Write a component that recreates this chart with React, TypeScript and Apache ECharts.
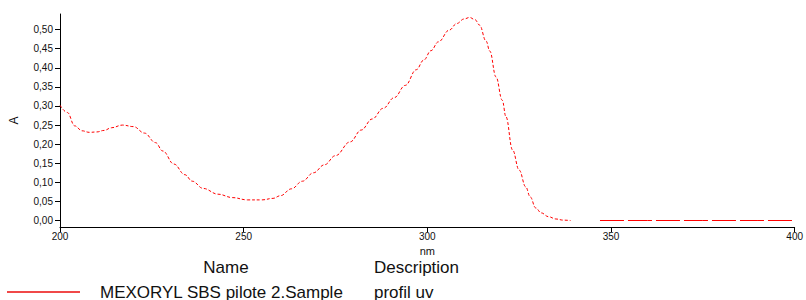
import React, { useEffect, useRef } from "react";
import * as echarts from "echarts";

const wavelength = [
  200, 202, 204, 206, 208, 210, 212, 214, 217, 220, 223, 226, 228, 231, 234, 236, 239, 243, 247, 251,
  255, 258, 260, 263, 266, 269, 272, 275, 279, 282, 285, 288, 291, 294, 297, 299, 301, 303, 306, 308,
  310, 311.5, 313, 314.2, 316, 317, 318.7, 320.4, 321.4, 323.2, 325, 326.8, 328, 329.5, 331, 333, 335,
  337, 339,
];
const absorbance = [
  0.302, 0.283, 0.248, 0.235, 0.231, 0.232, 0.236, 0.243, 0.25, 0.246, 0.229, 0.204, 0.182, 0.148,
  0.12, 0.103, 0.084, 0.069, 0.06, 0.054, 0.054, 0.058, 0.065, 0.083, 0.103, 0.125, 0.146, 0.17,
  0.206, 0.237, 0.266, 0.294, 0.322, 0.354, 0.395, 0.42, 0.445, 0.468, 0.499, 0.516, 0.528, 0.532,
  0.526, 0.512, 0.47, 0.444, 0.376, 0.315, 0.272, 0.185, 0.132, 0.088, 0.062, 0.033, 0.02, 0.01,
  0.004, 0.001, 0.0,
];
const tailWavelength = [347, 360, 375, 390, 400];
const tailAbsorbance = [0, 0, 0, 0, 0];

const yTicks = [0, 0.05, 0.1, 0.15, 0.2, 0.25, 0.3, 0.35, 0.4, 0.45, 0.5];
const xTicks = [200, 250, 300, 350, 400];

const legendName = "MEXORYL SBS pilote 2.Sample";
const legendDescription = "profil uv";

const FONT = "Liberation Sans, Arial, sans-serif";

export default function App() {
  const ref = useRef<HTMLDivElement>(null);
  useEffect(() => {
    if (!ref.current) return;
    const chart = echarts.init(ref.current, null, { renderer: "svg" });
    const main = wavelength.map((w, i) => [w, absorbance[i]]);
    const tail = tailWavelength.map((w, i) => [w, tailAbsorbance[i]]);
    chart.setOption({
      animation: false,
      grid: { left: 58, right: 9, top: 14, bottom: 73, containLabel: false },
      xAxis: {
        type: "value",
        min: xTicks[0],
        max: xTicks[xTicks.length - 1],
        interval: 50,
        name: "nm",
        nameLocation: "middle",
        nameGap: 16,
        nameTextStyle: { fontSize: 11, color: "#111", fontFamily: FONT, lineHeight: 11 },
        axisLine: { show: true, onZero: false, lineStyle: { color: "#000", width: 1 } },
        axisTick: { show: true, length: 5, lineStyle: { color: "#000" } },
        axisLabel: { fontSize: 10, color: "#111", margin: 4, fontFamily: FONT },
        splitLine: { show: false },
      },
      yAxis: {
        type: "value",
        min: -0.017,
        max: 0.541,
        name: "A",
        nameLocation: "middle",
        nameGap: 40,
        nameRotate: 90,
        nameTextStyle: { fontSize: 12, color: "#111", fontFamily: FONT },
        axisLine: { show: true, onZero: false, lineStyle: { color: "#000", width: 1 } },
        axisTick: { show: true, length: 5, customValues: yTicks, lineStyle: { color: "#000" } },
        axisLabel: {
          fontSize: 10,
          color: "#111",
          margin: 7,
          fontFamily: FONT,
          customValues: yTicks,
          formatter: (v: number) => v.toFixed(2).replace(".", ","),
        },
        splitLine: { show: false },
      },
      series: [
        {
          type: "line",
          data: main,
          showSymbol: false,
          smooth: 0.4,
          smoothMonotone: "x",
          clip: false,
          lineStyle: { color: "#ff0000", width: 1, type: [3, 2] },
        },
        {
          type: "line",
          data: tail,
          showSymbol: false,
          clip: false,
          lineStyle: { color: "#ff0000", width: 1, type: [24, 4] },
        },
      ],
      graphic: [
        {
          type: "line",
          shape: { x1: 7, y1: 292, x2: 80, y2: 292 },
          style: { stroke: "#f04848", lineWidth: 2 },
        },
        {
          type: "text",
          x: 226,
          y: 267,
          style: { text: "Name", fontSize: 17, lineHeight: 17, fontFamily: FONT, fill: "#111", textAlign: "center", textVerticalAlign: "middle" },
        },
        {
          type: "text",
          x: 374,
          y: 267,
          style: { text: "Description", fontSize: 17, lineHeight: 17, fontFamily: FONT, fill: "#111", textAlign: "left", textVerticalAlign: "middle" },
        },
        {
          type: "text",
          x: 100,
          y: 292,
          style: { text: legendName, fontSize: 17, lineHeight: 17, fontFamily: FONT, fill: "#111", textAlign: "left", textVerticalAlign: "middle" },
        },
        {
          type: "text",
          x: 374,
          y: 292,
          style: { text: legendDescription, fontSize: 17, lineHeight: 17, fontFamily: FONT, fill: "#111", textAlign: "left", textVerticalAlign: "middle" },
        },
      ],
    });
    return () => chart.dispose();
  }, []);
  return (
    <div
      ref={ref}
      style={{ position: "fixed", left: 0, top: 0, width: 806, height: 300, background: "#fff" }}
    />
  );
}
